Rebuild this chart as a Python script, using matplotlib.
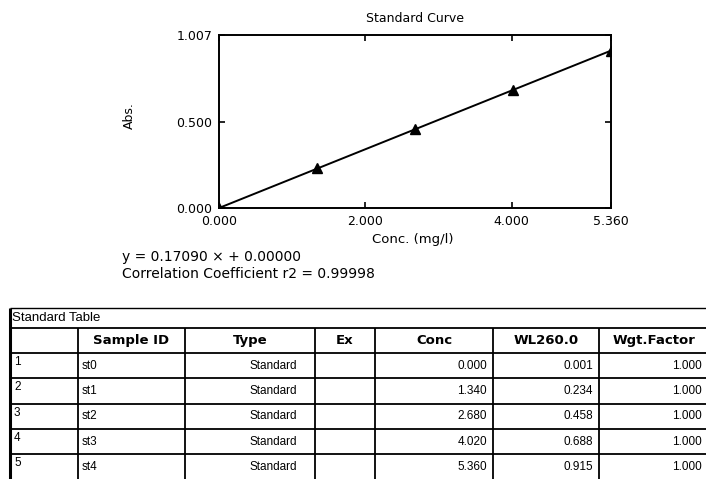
import matplotlib
matplotlib.use("Agg")
import matplotlib.pyplot as plt
import numpy as np

# ---- data ----
sample_no = ["1", "2", "3", "4", "5"]
sample_ids = ["st0", "st1", "st2", "st3", "st4"]
types = ["Standard"] * 5
conc = [0.000, 1.340, 2.680, 4.020, 5.360]
absorb = [0.001, 0.234, 0.458, 0.688, 0.915]
wgt = [1.000, 1.000, 1.000, 1.000, 1.000]
slope = 0.17090
intercept = 0.00000
r2 = 0.99998
headers = ["", "Sample ID", "Type", "Ex", "Conc", "WL260.0", "Wgt.Factor"]
xticks = [0.0, 2.0, 4.0, 5.36]
xtick_labels = ["0.000", "2.000", "4.000", "5.360"]
yticks = [0.0, 0.5, 1.007]
ytick_labels = ["0.000", "0.500", "1.007"]

W, H = 706, 479
fig = plt.figure(figsize=(W / 100, H / 100), dpi=100)

def fx(x):
    return x / W

def fy(y):
    return 1 - y / H

# ---- chart ----
L, R, T, B = 219, 611, 35, 208
ax = fig.add_axes([fx(L), fy(B), fx(R) - fx(L), fy(T) - fy(B)])
ax.set_xlim(0, 5.36)
ax.set_ylim(0, 1.007)
xs = np.array([0, conc[-1]])
ax.plot(xs, slope * xs + intercept, color="black", lw=1.4)
ax.plot(conc, absorb, linestyle="none", marker="^", color="black", markersize=6.5)
ax.set_xticks(xticks)
ax.set_xticklabels(xtick_labels)
ax.set_yticks(yticks)
ax.set_yticklabels(ytick_labels)
ax.tick_params(direction="in", length=4, width=1.2, top=True, right=True,
               labelsize=9, colors="black")
ax.tick_params(axis="x", pad=5)
ax.tick_params(axis="y", pad=5)
for s in ax.spines.values():
    s.set_linewidth(1.4)
    s.set_color("black")
ax.set_title("Standard Curve", fontsize=9, pad=9)

fig.text(fx(413), fy(240), "Conc. (mg/l)", fontsize=9.5, ha="center", va="center")
fig.text(fx(129), fy(116), "Abs.", fontsize=9, ha="center", va="center", rotation=90)
fig.text(fx(122), fy(257), f"y = {slope:.5f} \u00d7 + {intercept:.5f}",
         fontsize=10, ha="left", va="center")
fig.text(fx(122), fy(274), f"Correlation Coefficient r2 = {r2:.5f}",
         fontsize=10, ha="left", va="center")

# ---- table ----
tax = fig.add_axes([0, 0, 1, 1])
tax.set_xlim(0, W)
tax.set_ylim(H, 0)
tax.axis("off")

cols = [10, 78, 185, 315, 375, 493, 599, 710]
title_top, head_top, head_bot = 308, 328, 353
row_h = 25.3
row_tops = [head_bot + i * row_h for i in range(len(sample_ids) + 1)]

lw = 1.3
tax.hlines([title_top], cols[0], W + 10, color="black", lw=1.0)
tax.hlines([head_top, head_bot] + row_tops[1:], cols[0], W + 10, color="black", lw=lw)
tax.vlines([cols[0]], title_top, H + 5, color="black", lw=2.2)
tax.vlines(cols[1:], head_top, H + 5, color="black", lw=lw)

tax.text(cols[0] + 2, (title_top + head_top) / 2, "Standard Table",
         fontsize=9.5, family="Liberation Sans", ha="left", va="center")

for j, h in enumerate(headers):
    if h:
        tax.text((cols[j] + cols[j + 1]) / 2, (head_top + head_bot) / 2, h,
                 fontsize=9.5, fontweight="bold", family="DejaVu Sans",
                 ha="center", va="center")

cf = dict(fontsize=8.5, family="Liberation Sans", va="center")
for i in range(len(sample_ids)):
    yc = row_tops[i] + row_h / 2
    tax.text(cols[0] + 4, row_tops[i] + 3, sample_no[i], ha="left", va="top",
             fontsize=8.5, family="Liberation Sans")
    tax.text(cols[1] + 4, yc, sample_ids[i], ha="left", **cf)
    tax.text(cols[2] + 64, yc, types[i], ha="left", **cf)
    tax.text(cols[5] - 6, yc, f"{conc[i]:.3f}", ha="right", **cf)
    tax.text(cols[6] - 6, yc, f"{absorb[i]:.3f}", ha="right", **cf)
    tax.text(cols[7] - 8, yc, f"{wgt[i]:.3f}", ha="right", **cf)

fig.savefig("out.png", dpi=100)
